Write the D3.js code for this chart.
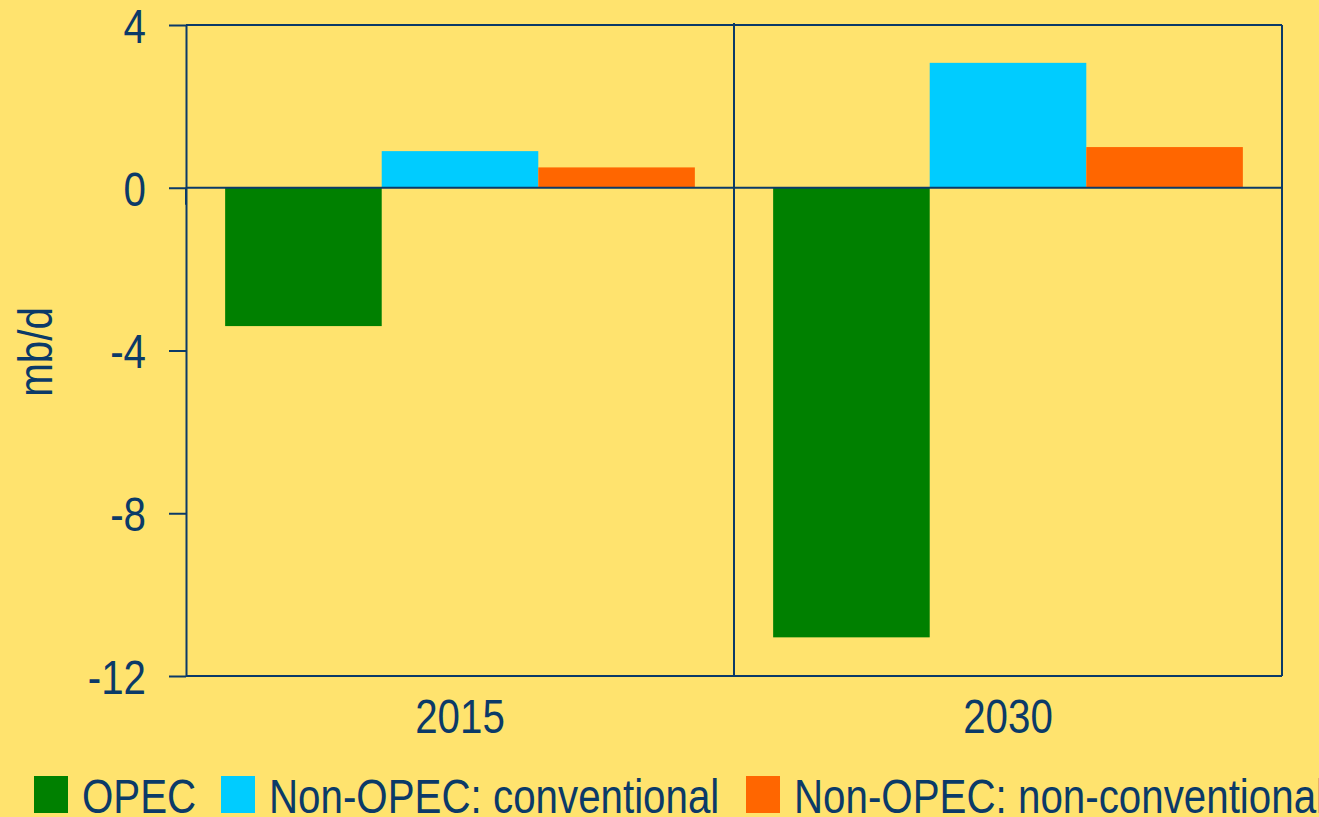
<!DOCTYPE html>
<html>
<head>
<meta charset="utf-8">
<script src="https://cdn.jsdelivr.net/npm/d3@7"></script>
<style>
  body { margin: 0; background: #FFE36E; }
  svg { display: block; }
  text { font-family: "Liberation Sans", Arial, sans-serif; fill: #0B3A68; }
</style>
</head>
<body>
<svg width="1319" height="817"></svg>
<script>
// data
var years = ["2015", "2030"];
var seriesNames = ["OPEC", "Non-OPEC: conventional", "Non-OPEC: non-conventional"];
var opec = [-3.4, -11.05];
var nonOpecConv = [0.9, 3.07];
var nonOpecNonConv = [0.5, 1.0];
var yTicks = [4, 0, -4, -8, -12];

var colors = ["#008000", "#00CCFF", "#FF6600"];
var ink = "#0B3A68";
var narrow = 0.84;   // squeeze text, no narrow font installed

var svg = d3.select("svg"),
    width = +svg.attr("width"),
    height = +svg.attr("height");

var pL = 186, pR = 1282, pT = 25, pB = 676;

var x = d3.scaleBand()
    .domain(years)
    .range([pL, pR])
    .padding(0);

var x1 = d3.scaleBand()
    .domain(seriesNames)
    .range([0, x.bandwidth()])
    .paddingInner(0)
    .paddingOuter(0.25);

var y = d3.scaleLinear()
    .domain([-12, 4])
    .range([pB, pT]);

var rows = years.map(function(yr, i) {
  return { year: yr, values: [opec[i], nonOpecConv[i], nonOpecNonConv[i]] };
});

// bars
var groups = svg.selectAll("g.year")
  .data(rows)
  .enter()
  .append("g")
    .attr("class", "year")
    .attr("transform", function(d) { return "translate(" + x(d.year) + ",0)"; });

groups.selectAll("rect")
  .data(function(d) { return d.values.map(function(v, j) { return { name: seriesNames[j], v: v, c: colors[j] }; }); })
  .enter()
  .append("rect")
    .attr("x", function(d) { return x1(d.name); })
    .attr("y", function(d) { return y(Math.max(0, d.v)); })
    .attr("width", x1.bandwidth())
    .attr("height", function(d) { return Math.abs(y(d.v) - y(0)); })
    .attr("fill", function(d) { return d.c; });

// frame
var frame = svg.append("g").attr("stroke", ink).attr("stroke-width", 2).attr("fill", "none");
frame.append("line").attr("x1", pL).attr("x2", pR).attr("y1", pT).attr("y2", pT);
frame.append("line").attr("x1", pR).attr("x2", pR).attr("y1", pT).attr("y2", pB);
frame.append("line").attr("x1", pL).attr("x2", pR).attr("y1", pB).attr("y2", pB);
frame.append("line").attr("x1", pL).attr("x2", pR).attr("y1", y(0)).attr("y2", y(0));

// year separator
frame.append("line")
  .attr("x1", x("2030")).attr("x2", x("2030"))
  .attr("y1", pT - 2).attr("y2", pB);

// category ticks hanging from the zero line
frame.selectAll("line.ctick")
  .data([pL, pR])
  .enter()
  .append("line")
    .attr("x1", function(d) { return d; })
    .attr("x2", function(d) { return d; })
    .attr("y1", y(0)).attr("y2", y(0) + 17);

// y axis
var yAxis = svg.append("g")
  .attr("transform", "translate(" + pL + ",0)")
  .call(d3.axisLeft(y).tickValues(yTicks).tickSize(17).tickPadding(23).tickSizeOuter(0)
    .tickFormat(function(d) { return String(d); }));
yAxis.attr("font-family", null).attr("font-size", null);
yAxis.select(".domain").attr("stroke", ink).attr("stroke-width", 2);
yAxis.selectAll(".tick line").attr("stroke", ink).attr("stroke-width", 2);
yAxis.selectAll(".tick text")
  .attr("fill", ink)
  .style("font-size", "48px")
  .attr("x", -40 / narrow)
  .attr("transform", "scale(" + narrow + ",1)")
  .attr("dy", "0.36em");

// x labels
svg.selectAll("text.year")
  .data(years)
  .enter()
  .append("text")
    .attr("class", "year")
    .attr("transform", function(d) { return "translate(" + (x(d) + x.bandwidth() / 2) + ",733) scale(" + narrow + ",1)"; })
    .attr("text-anchor", "middle")
    .style("font-size", "48px")
    .text(function(d) { return d; });

// y title
svg.append("text")
  .attr("transform", "translate(52,352) rotate(-90) scale(" + narrow + ",1)")
  .attr("text-anchor", "middle")
  .style("font-size", "48px")
  .text("mb/d");

// legend
var legendX = [34, 221, 746];
var legend = svg.selectAll("g.legend")
  .data(seriesNames)
  .enter()
  .append("g")
    .attr("class", "legend")
    .attr("transform", function(d, i) { return "translate(" + legendX[i] + ",0)"; });
legend.append("rect")
  .attr("x", 0).attr("y", 776)
  .attr("width", 34).attr("height", 37)
  .attr("fill", function(d, i) { return colors[i]; });
legend.append("text")
  .attr("transform", "translate(48,813) scale(" + narrow + ",1)")
  .style("font-size", "48px")
  .text(function(d) { return d; });
</script>
</body>
</html>
